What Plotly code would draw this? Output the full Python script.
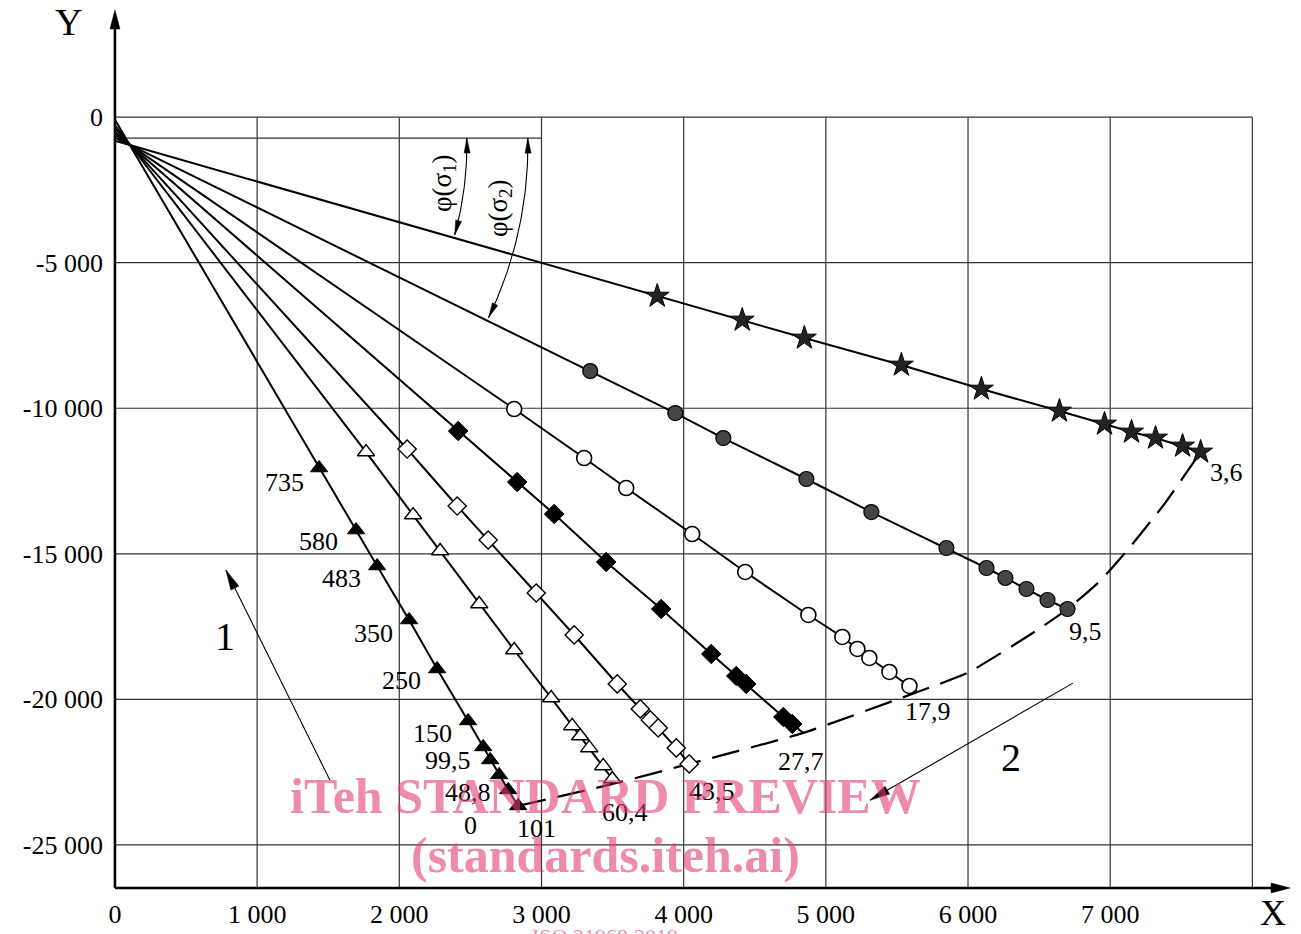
import math
import plotly.graph_objects as go

# ---------------- data ----------------
# series labelled 3,6 (stars)
s36_x = [3814, 4412, 4849, 5531, 6094, 6643, 6960, 7150, 7319, 7509, 7636]
s36_y = [-6147, -6971, -7589, -8516, -9341, -10096, -10543, -10817, -11023, -11298, -11504]
s36_start = -813
# series 9,5 (hatched filled circles)
s95_x = [3343, 3941, 4279, 4863, 5320, 5848, 6130, 6263, 6411, 6559, 6700]
s95_y = [-8723, -10165, -11023, -12431, -13565, -14801, -15488, -15831, -16209, -16587, -16896]
s95_start = -704
# series 17,9 (open circles)
s179_x = [2808, 3300, 3596, 4060, 4433, 4877, 5116, 5222, 5306, 5447, 5588]
s179_y = [-10027, -11710, -12740, -14320, -15625, -17102, -17857, -18269, -18578, -19059, -19540]
s179_start = -601
s179_end = (5644, -19746)
# series 27,7 (filled diamonds)
s277_x = [2414, 2829, 3089, 3455, 3842, 4194, 4370, 4440, 4701, 4764]
s277_y = [-10783, -12534, -13633, -15282, -16896, -18441, -19196, -19471, -20604, -20845]
s277_start = -510
s277_end = (4842, -21153)
# series 43,5 (open diamonds)
s435_x = [2055, 2407, 2625, 2963, 3230, 3533, 3695, 3765, 3821, 3948, 4039]
s435_y = [-11401, -13359, -14526, -16346, -17788, -19471, -20329, -20707, -20982, -21669, -22218]
s435_start = -388
# series 60,4 (open triangles)
s604_x = [1766, 2097, 2287, 2562, 2808, 3068, 3216, 3272, 3336, 3434, 3498]
s604_y = [-11504, -13668, -14904, -16724, -18304, -19952, -20913, -21257, -21669, -22287, -22734]
s604_start = -279
# series 101 (filled triangles)
s101_x = [1436, 1696, 1844, 2069, 2266, 2484, 2590, 2639, 2702, 2766, 2836]
s101_y = [-12053, -14183, -15419, -17273, -18956, -20741, -21635, -22081, -22596, -23111, -23661]
s101_start = -90

# dashed envelope curve (2)
env_x = [2836, 3480, 4039, 4842, 5644, 5996, 6488, 6700, 6928, 7139, 7386, 7636]
env_y = [-23661, -22930, -22218, -21153, -19746, -19093, -17617, -16896, -15936, -14768, -13257, -11504]

# point labels along the 101 series
pt_labels = ["735", "580", "483", "350", "250", "150", "99,5", "48,8", "0"]
pt_lab_x = [1189, 1435, 1590, 1815, 2012, 2230, 2342, 2483, 2504]
pt_lab_y = [-12539, -14566, -15836, -17726, -19341, -21161, -22089, -23188, -24322]

# series end labels
end_labels = ["3,6", "9,5", "17,9", "27,7", "43,5", "60,4", "101"]
end_lab_x = [7815, 6823, 5719, 4825, 4199, 3587, 2968]
end_lab_y = [-12195, -17657, -20405, -22123, -23154, -23875, -24425]

x_ticks = [0, 1000, 2000, 3000, 4000, 5000, 6000, 7000]
x_ticktext = ["0", "1 000", "2 000", "3 000", "4 000", "5 000", "6 000", "7 000"]
y_ticks = [0, -5000, -10000, -15000, -20000, -25000]
y_ticktext = ["0", "-5 000", "-10 000", "-15 000", "-20 000", "-25 000"]

grid_x = [1000, 2000, 3000, 4000, 5000, 6000, 7000, 8000]
grid_y = [0, -5000, -10000, -15000, -20000, -25000]
ref_line_y = -721
ref_line_x_end = 3000
pivot = (105, -960)

# axis extents (arrow tips) and position of the X axis
x_axis_end = 8265
y_axis_top = 3680
x_axis_y = -26480

# pointer arrows (tail -> head) for labels 1 and 2
arrow1 = ((1512, -22776), (781, -15562))
arrow2 = ((6738, -19443), (5310, -23463))

# ---------------- layout constants ----------------
W, H = 1301, 934
ML, MR, MT, MB = 105, 0, 0, 38
XR = [-70, 8342]
YR = [-26755, 4024]
PW, PH = W - ML - MR, H - MT - MB

def to_px(x, y):
    return ML + (x - XR[0]) / (XR[1] - XR[0]) * PW, MT + (YR[1] - y) / (YR[1] - YR[0]) * PH

def to_data(px, py):
    return XR[0] + (px - ML) / PW * (XR[1] - XR[0]), YR[1] - (py - MT) / PH * (YR[1] - YR[0])

def paper(px, py):
    return (px - ML) / PW, 1 - (py - MT) / PH

shapes = []

def head(tip_px, dir_px, length, width):
    """Slender filled arrowhead; tip_px in pixels, dir_px direction the arrow points."""
    dx, dy = dir_px
    n = math.hypot(dx, dy)
    dx, dy = dx / n, dy / n
    bx, by = tip_px[0] - length * dx, tip_px[1] - length * dy
    nx, ny = -dy, dx
    pts = [tip_px, (bx + nx * width / 2, by + ny * width / 2), (bx - nx * width / 2, by - ny * width / 2)]
    d = [to_data(*p) for p in pts]
    path = "M{},{} L{},{} L{},{} Z".format(d[0][0], d[0][1], d[1][0], d[1][1], d[2][0], d[2][1])
    shapes.append(dict(type="path", path=path, xref="x", yref="y", fillcolor="black",
                       line=dict(color="black", width=0.5)))

FONT = "Liberation Serif"
fig = go.Figure()

def add_series(xs, ys, start, end, symbol, size, fill, lw=1.3):
    lx = [0] + xs + ([end[0]] if end else [])
    ly = [start] + ys + ([end[1]] if end else [])
    fig.add_trace(go.Scatter(x=lx, y=ly, mode="lines", line=dict(color="black", width=2),
                             hoverinfo="skip", showlegend=False))
    fig.add_trace(go.Scatter(x=xs, y=ys, mode="markers",
                             marker=dict(symbol=symbol, size=size, color=fill,
                                         line=dict(color="black", width=lw)),
                             showlegend=False))

# envelope curve
fig.add_trace(go.Scatter(x=env_x, y=env_y, mode="lines",
                         line=dict(color="black", width=2.2, dash="28px,12px", shape="spline", smoothing=0.5),
                         hoverinfo="skip", showlegend=False))

add_series(s36_x, s36_y, s36_start, None, "star", 18, "#222", 1)
add_series(s95_x, s95_y, s95_start, None, "circle", 15, "#454545", 1.2)
add_series(s179_x, s179_y, s179_start, s179_end, "circle", 15, "white", 1.6)
add_series(s277_x, s277_y, s277_start, s277_end, "diamond", 15, "black", 1)
add_series(s435_x, s435_y, s435_start, None, "diamond", 14, "white", 1.4)
add_series(s604_x, s604_y, s604_start, None, "triangle-up", 15, "white", 1.4)
add_series(s101_x, s101_y, s101_start, None, "triangle-up", 15, "black", 1)

# arcs for phi(sigma)
cpx, cpy = to_px(*pivot)
arcs = [(337, -1.2, 15.5), (398, -1.0, 25.7)]
annotations = []
for r, a0, a1 in arcs:
    n = 40
    ax_, ay_ = [], []
    for i in range(n + 1):
        t = math.radians(a0 + (a1 - a0) * i / n)
        dx, dy = to_data(cpx + r * math.cos(t), cpy + r * math.sin(t))
        ax_.append(dx)
        ay_.append(dy)
    fig.add_trace(go.Scatter(x=ax_, y=ay_, mode="lines", line=dict(color="black", width=1.1),
                             hoverinfo="skip", showlegend=False))
    t0, t1 = math.radians(a0), math.radians(a1)
    head((cpx + r * math.cos(t0), cpy + r * math.sin(t0)), (math.sin(t0), -math.cos(t0)), 15, 6)
    head((cpx + r * math.cos(t1), cpy + r * math.sin(t1)), (-math.sin(t1), math.cos(t1)), 15, 6)

# grid shapes
for gx in grid_x:
    shapes.append(dict(type="line", x0=gx, x1=gx, y0=0, y1=x_axis_y, xref="x", yref="y",
                       line=dict(color="#333", width=1.2), layer="below"))
for gy in grid_y:
    shapes.append(dict(type="line", x0=0, x1=grid_x[-1], y0=gy, y1=gy, xref="x", yref="y",
                       line=dict(color="#333", width=1.2), layer="below"))
shapes.append(dict(type="line", x0=0, x1=ref_line_x_end, y0=ref_line_y, y1=ref_line_y, xref="x", yref="y",
                   line=dict(color="#333", width=1.2), layer="below"))

# axes with arrows
x_tip = to_px(x_axis_end, x_axis_y)
y_tip = to_px(0, y_axis_top)
shapes.append(dict(type="line", x0=0, x1=to_data(x_tip[0] - 10, 0)[0], y0=x_axis_y, y1=x_axis_y,
                   xref="x", yref="y", line=dict(color="black", width=2.6)))
shapes.append(dict(type="line", x0=0, x1=0, y0=x_axis_y, y1=to_data(0, y_tip[1] + 10)[1],
                   xref="x", yref="y", line=dict(color="black", width=2.6)))
head(x_tip, (1, 0), 19, 10)
head(y_tip, (0, -1), 19, 10)

# pointer arrows 1 and 2
for (tx, ty), (hx, hy) in [arrow1, arrow2]:
    tp = to_px(tx, ty)
    hp = to_px(hx, hy)
    shapes.append(dict(type="line", x0=tx, y0=ty, x1=hx, y1=hy, xref="x", yref="y",
                       line=dict(color="black", width=1.1)))
    head(hp, (hp[0] - tp[0], hp[1] - tp[1]), 20, 9)

tfont = dict(family=FONT, size=26, color="black")
for t, x, y in zip(pt_labels, pt_lab_x, pt_lab_y):
    annotations.append(dict(x=x, y=y, text=t, showarrow=False, font=tfont, xanchor="center", yanchor="middle"))
for t, x, y in zip(end_labels, end_lab_x, end_lab_y):
    annotations.append(dict(x=x, y=y, text=t, showarrow=False, font=tfont, xanchor="center", yanchor="middle"))

big = dict(family=FONT, size=40, color="black")
annotations.append(dict(x=774, y=-17829, text="1", showarrow=False, font=big))
annotations.append(dict(x=6302, y=-21985, text="2", showarrow=False, font=big))
yx, yy = paper(68, 22)
annotations.append(dict(x=yx, y=yy, xref="paper", yref="paper", text="Y", showarrow=False,
                        xanchor="center", yanchor="middle", font=dict(family=FONT, size=38, color="black")))
xx, xy = paper(1273, 913)
annotations.append(dict(x=xx, y=xy, xref="paper", yref="paper", text="X", showarrow=False,
                        xanchor="center", yanchor="middle", font=dict(family=FONT, size=36, color="black")))

annotations.append(dict(x=2314, y=-2267, text="φ(σ<sub>1</sub>)", textangle=-90, showarrow=False,
                        font=dict(family=FONT, size=27, color="black")))
annotations.append(dict(x=2708, y=-3126, text="φ(σ<sub>2</sub>)", textangle=-90, showarrow=False,
                        font=dict(family=FONT, size=27, color="black")))

# watermark
wm = dict(family=FONT, size=50, color="rgba(225,60,120,0.6)")
for txt, py in [("<b>iTeh STANDARD PREVIEW</b>", 796), ("<b>(standards.iteh.ai)</b>", 855)]:
    px_, py_ = paper(605, py)
    annotations.append(dict(x=px_, y=py_, xref="paper", yref="paper", text=txt, showarrow=False,
                            xanchor="center", yanchor="middle", font=wm))
px_, py_ = paper(605, 936)
annotations.append(dict(x=px_, y=py_, xref="paper", yref="paper", text="ISO 21968:2019", showarrow=False,
                        xanchor="center", yanchor="middle",
                        font=dict(family=FONT, size=22, color="rgba(225,60,120,0.6)")))

fig.update_layout(
    width=W, height=H,
    margin=dict(l=ML, r=MR, t=MT, b=MB, autoexpand=False),
    paper_bgcolor="white", plot_bgcolor="white",
    showlegend=False,
    shapes=shapes, annotations=annotations,
    xaxis=dict(range=XR, tickvals=x_ticks, ticktext=x_ticktext, showgrid=False, zeroline=False,
               showline=False, ticks="", tickfont=tfont, automargin=False, fixedrange=True,
               ticklabelstandoff=0),
    yaxis=dict(range=YR, tickvals=y_ticks, ticktext=y_ticktext, showgrid=False, zeroline=False,
               showline=False, ticks="", tickfont=tfont, automargin=False, ticklabelstandoff=1,
               fixedrange=True),
)

fig.write_html("out.html", config={"displayModeBar": False},
               post_script="document.body.style.margin='0';document.body.style.padding='0';")
